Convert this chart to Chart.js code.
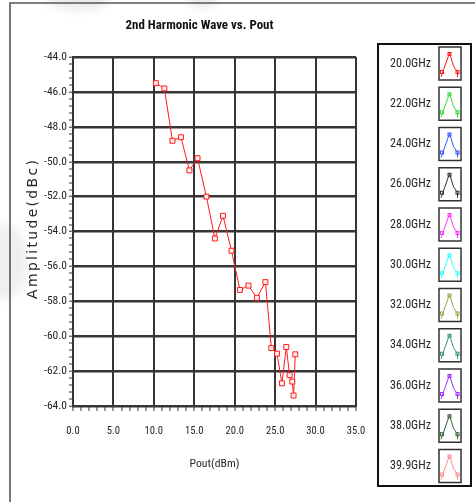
<!DOCTYPE html>
<html><head><meta charset="utf-8">
<script src="https://cdn.jsdelivr.net/npm/chart.js@4.4.1/dist/chart.umd.min.js"></script>
<style>html,body{margin:0;padding:0;background:#fff;overflow:hidden}#wrap{width:475px;height:502px;position:relative}</style>
</head><body><div id="wrap"><canvas id="c" width="475" height="502"></canvas></div>
<script>
// ---- data ----
const pout20 = [10.25, 11.3, 12.3, 13.35, 14.4, 15.4, 16.5, 17.55, 18.55, 19.6, 20.65, 21.7, 22.75, 23.8, 24.53, 25.23, 25.84, 26.38, 26.79, 27.12, 27.28, 27.49];
const amp20  = [-45.5, -45.8, -48.8, -48.6, -50.5, -49.8, -52.0, -54.4, -53.1, -55.1, -57.35, -57.1, -57.8, -56.9, -60.68, -61.0, -62.7, -60.62, -62.23, -62.6, -63.4, -61.04];
const freqLabels = ['20.0GHz','22.0GHz','24.0GHz','26.0GHz','28.0GHz','30.0GHz','32.0GHz','34.0GHz','36.0GHz','38.0GHz','39.9GHz'];
const freqColors = ['#ff1a1a','#33dd33','#3355ff','#333333','#ff33ff','#33ffff','#a3a340','#339966','#9933ff','#336633','#ff8c8c'];
const xTickLabels = ['0.0','5.0','10.0','15.0','20.0','25.0','30.0','35.0'];
const yTickLabels = ['-64.0','-62.0','-60.0','-58.0','-56.0','-54.0','-52.0','-50.0','-48.0','-46.0','-44.0'];
const chartTitle = '2nd Harmonic Wave vs. Pout';
const xTitle = 'Pout(dBm)';
const yTitle = 'Amplitude(dBc)';

// ---- fonts: prefer a narrow face, size it to the reference text widths ----
const mctx = document.createElement('canvas').getContext('2d');
function hasFont(name){
  const s='abcdefghijklmnopqrstuvwxyzABCDEFGH0123456789';
  mctx.font='32px monospace'; const w1=mctx.measureText(s).width;
  mctx.font='32px serif'; const w2=mctx.measureText(s).width;
  mctx.font='32px "'+name+'", monospace'; const a=mctx.measureText(s).width;
  mctx.font='32px "'+name+'", serif'; const b=mctx.measureText(s).width;
  return a!==w1 && b!==w2;
}
const cands = ['Liberation Sans Narrow','Arial Narrow','Roboto Condensed','Noto Sans Condensed','Open Sans Condensed','DejaVu Sans Condensed','Liberation Sans'];
let famName = 'Liberation Sans';
for (const c of cands){ if (hasFont(c)){ famName=c; break; } }
const FAM = '"'+famName+'", "Liberation Sans", Arial, sans-serif';
function fitSize(sample, target, weight, maxS){
  mctx.font=(weight||'')+' 100px '+FAM;
  const s = target / (mctx.measureText(sample).width/100);
  return Math.min(s, maxS||99);
}
const Y_TICK = fitSize('-50.0', 23, '', 13);
const X_TICK = fitSize('10.0', 18.5, '', 13.5);
const X_TTL  = fitSize(xTitle, 50, '', 13.5);
const LEG    = fitSize('20.0GHz', 41, '', 13.5);
const TTL    = fitSize(chartTitle, 148, 'bold', 14.5);

const TXT = '#262626';
const GRID = '#363636';

function isMult(v, m){ const r=Math.round(v*1000)/1000; return Math.abs(r/m-Math.round(r/m))<1e-6; }

const decorPlugin = {
  id:'decor',
  beforeDraw(chart){
    const ctx=chart.ctx;
    ctx.save();
    ctx.fillStyle='#fff'; ctx.fillRect(0,0,chart.width,chart.height);
    try{ ctx.filter='blur(5px)'; }catch(e){}
    ctx.fillStyle='#e9e9e9';
    ctx.beginPath(); ctx.ellipse(78,-2,32,12,0,0,Math.PI*2); ctx.fill();
    ctx.beginPath(); ctx.ellipse(202,-2,16,10,0,0,Math.PI*2); ctx.fill();
    ctx.fillStyle='#efefef';
    ctx.beginPath(); ctx.ellipse(4,262,24,38,0,0,Math.PI*2); ctx.fill();
    ctx.filter='none';
    // outer frame
    ctx.strokeStyle='#555'; ctx.lineWidth=1.6;
    ctx.beginPath(); ctx.moveTo(10,502); ctx.lineTo(10,3); ctx.lineTo(475,3); ctx.stroke();
    ctx.restore();
  },
  afterDraw(chart){
    const ctx=chart.ctx, ca=chart.chartArea;
    ctx.save();
    // title
    ctx.fillStyle='#111'; ctx.textAlign='center'; ctx.textBaseline='middle';
    ctx.font='bold '+TTL+'px '+FAM;
    ctx.fillText(chartTitle, 199.5, 25.5);
    // y title
    ctx.save();
    ctx.translate(33,(ca.top+ca.bottom)/2-2); ctx.rotate(-Math.PI/2);
    ctx.font='14px "DejaVu Sans", Verdana, sans-serif';
    const w0 = ctx.measureText(yTitle).width;
    const ls = Math.max(0,(141-w0)/yTitle.length);
    try{ ctx.letterSpacing=ls.toFixed(2)+'px'; }catch(e){}
    ctx.fillStyle=TXT; ctx.textAlign='center'; ctx.textBaseline='middle';
    ctx.fillText(yTitle,ls/2,0);
    ctx.restore();
    // legend
    ctx.fillStyle='#fff'; ctx.fillRect(378,44,93,442);
    ctx.strokeStyle='#111'; ctx.lineWidth=2; ctx.strokeRect(378,44,93,442);
    chart.data.datasets.forEach((ds,i)=>{
      const cy=63.5+i*40.25;
      ctx.fillStyle=TXT; ctx.font=LEG+'px '+FAM; ctx.textAlign='right'; ctx.textBaseline='middle';
      ctx.fillText(ds.label,431,cy);
      const bx=439, by=cy-16.5, bw=22, bh=33;
      ctx.fillStyle='#fff'; ctx.fillRect(bx,by,bw,bh);
      ctx.strokeStyle='#333'; ctx.lineWidth=1.5; ctx.strokeRect(bx,by,bw,bh);
      ctx.strokeStyle=ds.borderColor; ctx.lineWidth=1;
      ctx.beginPath(); ctx.moveTo(bx+2,by+30); ctx.lineTo(bx+10.5,by+6); ctx.lineTo(bx+14.5,by+19); ctx.lineTo(bx+18.5,by+25); ctx.lineTo(bx+18.5,by+30); ctx.stroke();
      [[bx+3,by+25],[bx+10.5,by+7],[bx+18.5,by+25]].forEach(p=>{ ctx.strokeRect(p[0]-1.5,p[1]-1.5,3,3); });
    });
    ctx.restore();
  }
};

const datasets = freqLabels.map((lab,i)=>({
  label: lab,
  data: i===0 ? pout20.map((x,j)=>({x:x, y:amp20[j]})) : [],
  borderColor: freqColors[i],
  backgroundColor: freqColors[i],
  borderWidth: 1,
  pointStyle: 'rect',
  pointRadius: 3.5,
  pointBorderWidth: 1,
  pointBorderColor: freqColors[i],
  pointBackgroundColor: 'rgba(255,240,240,0.95)',
  tension: 0,
  fill: false
}));

new Chart(document.getElementById('c').getContext('2d'), {
  type:'line',
  data:{datasets},
  options:{
    responsive:false, animation:false, devicePixelRatio:1,
    layout:{padding:{left:20,right:119,top:57,bottom:31}},
    plugins:{legend:{display:false}, title:{display:false}, tooltip:{enabled:false}},
    scales:{
      x:{
        type:'linear', position:'bottom', min:0, max:35,
        ticks:{count:36, autoSkip:false, maxRotation:0, minRotation:0, padding:Math.max(2, 431-411-0.6*X_TICK), color:TXT,
          font:{family:FAM, size:X_TICK},
          callback:(v)=> isMult(v,5) ? xTickLabels[Math.round(v/5)] : ''},
        grid:{color:GRID, lineWidth:(c)=> (c.tick && isMult(c.tick.value,5)) ? 2 : 0,
          tickColor:GRID, tickWidth:1, tickLength:5, drawTicks:true},
        border:{display:true, color:GRID, width:2},
        title:{display:true, text:xTitle, color:TXT, font:{family:FAM, size:X_TTL}, padding:{top:0,bottom:0}},
        afterFit:(s)=>{ s.height=65; }
      },
      y:{
        type:'linear', position:'left', min:-64, max:-44,
        ticks:{count:51, autoSkip:false, padding:2, color:TXT,
          font:{family:FAM, size:Y_TICK},
          callback:(v)=> isMult(v,2) ? yTickLabels[Math.round((v+64)/2)] : ''},
        grid:{color:GRID, lineWidth:(c)=> (c.tick && isMult(c.tick.value,2)) ? 2.4 : 0,
          tickColor:GRID, tickWidth:1, tickLength:4, drawTicks:true},
        border:{display:true, color:GRID, width:2},
        afterFit:(s)=>{ s.width=53; }
      }
    }
  },
  plugins:[decorPlugin]
});
</script>
</body></html>
